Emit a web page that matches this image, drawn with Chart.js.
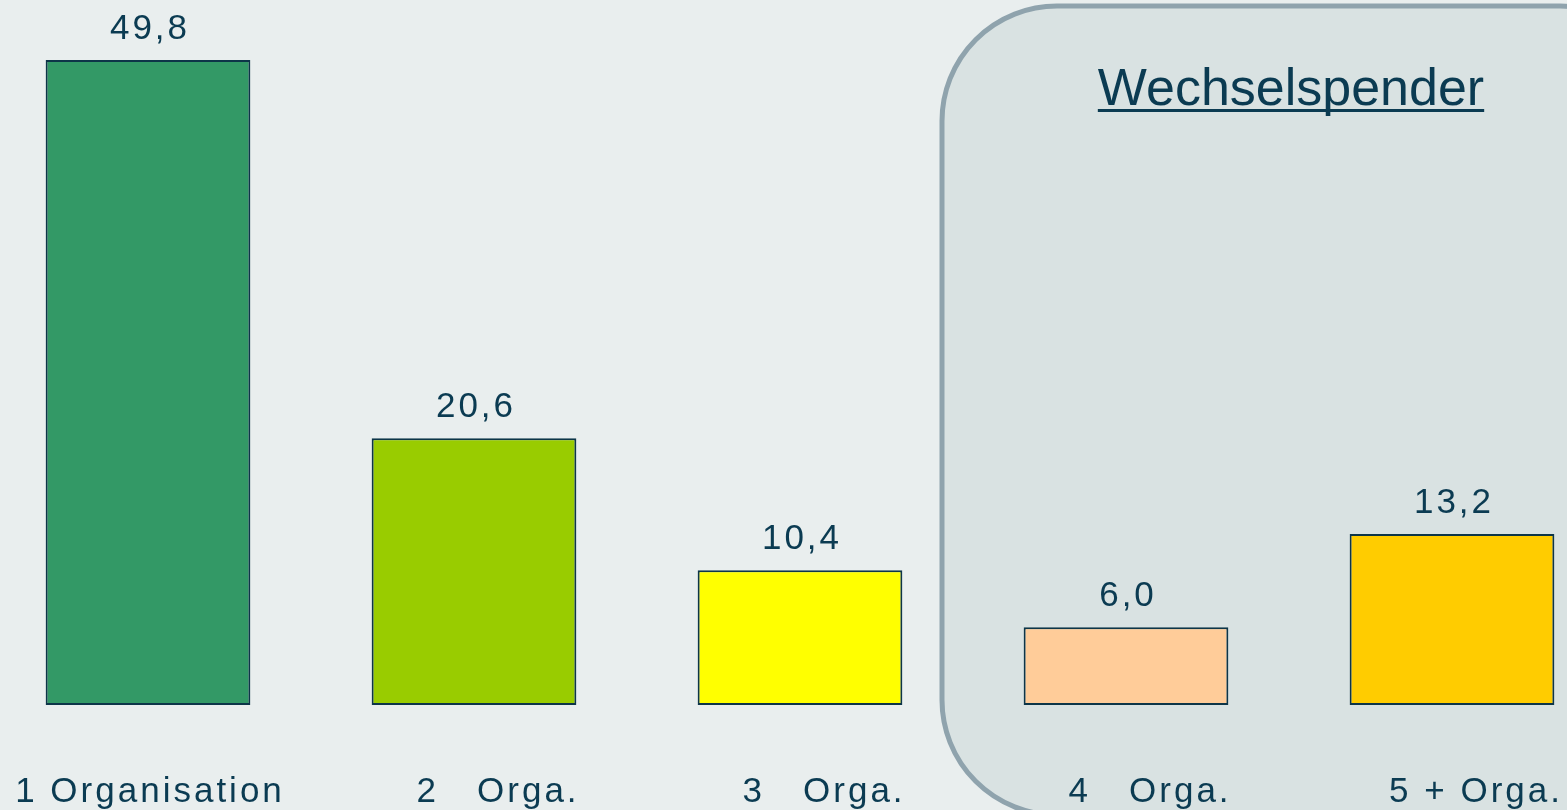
<!DOCTYPE html>
<html>
<head>
<meta charset="utf-8">
<script src="https://cdn.jsdelivr.net/npm/chart.js@4"></script>
<style>
  html, body { margin: 0; padding: 0; background: #e9eeee; overflow: hidden; }
  #wrap { position: absolute; left: -15px; top: 0; }
</style>
</head>
<body>
<div id="wrap"><canvas id="myChart" width="1630" height="810"></canvas></div>
<script>
const categories = ['1 Organisation', '2   Orga.', '3   Orga.', '4   Orga.', '5 + Orga.'];
const shares = [49.8, 20.6, 10.4, 6.0, 13.2];
const barColors = ['#339966', '#99cc00', '#ffff00', '#ffcc99', '#ffcc00'];
const boxTitle = 'Wechselspender';

const textColor = '#0b3b52';

// rounded box behind the last two bars
const boxPlugin = {
  id: 'box',
  beforeDatasetsDraw(chart) {
    const c = chart.ctx;
    const x = chart.scales.x;
    const left = x.getPixelForValue(2.5) - 21;
    const top = 6;
    const right = chart.width + 60;
    const bottom = 815;
    c.save();
    c.beginPath();
    c.roundRect(left, top, right - left, bottom - top, 115);
    c.fillStyle = '#d9e2e2';
    c.fill();
    c.lineWidth = 5;
    c.strokeStyle = '#8fa3ad';
    c.stroke();

    // title
    const cx = (x.getPixelForValue(3) + x.getPixelForValue(4)) / 2;
    c.font = '52px "Liberation Sans", Arial, sans-serif';
    c.fillStyle = textColor;
    c.textAlign = 'center';
    c.textBaseline = 'alphabetic';
    c.fillText(boxTitle, cx + 2, 105);
    const w = c.measureText(boxTitle).width;
    c.fillRect(cx + 2 - w / 2, 109, w, 3);
    c.restore();
  }
};

const labelPlugin = {
  id: 'labels',
  afterDatasetsDraw(chart) {
    const c = chart.ctx;
    const meta = chart.getDatasetMeta(0);
    c.save();
    c.font = '35px "Liberation Sans", Arial, sans-serif';
    c.letterSpacing = '3px';
    c.fillStyle = textColor;
    c.textAlign = 'center';
    c.textBaseline = 'alphabetic';
    meta.data.forEach((bar, i) => {
      c.fillText(shares[i].toFixed(1).replace('.', ','), bar.x + 2, bar.y - 21);
      c.fillText(categories[i], bar.x + (i === 0 ? 2 : 24), 802);
    });
    c.restore();
  }
};

const ctx = document.getElementById('myChart').getContext('2d');
const myChart = new Chart(ctx, {
  type: 'bar',
  data: {
    labels: categories,
    datasets: [{
      data: shares,
      backgroundColor: barColors,
      borderColor: '#0d3548',
      borderWidth: 2,
      borderSkipped: false,
      categoryPercentage: 1,
      barPercentage: 0.628
    }]
  },
  options: {
    responsive: false,
    animation: false,
    devicePixelRatio: 1,
    layout: { padding: { top: 0, bottom: 105, left: 0, right: 0 } },
    plugins: {
      legend: { display: false },
      tooltip: { enabled: false }
    },
    scales: {
      x: { display: false },
      y: { display: false, min: 0, max: 54.43 }
    }
  },
  plugins: [boxPlugin, labelPlugin]
});
</script>
</body>
</html>
